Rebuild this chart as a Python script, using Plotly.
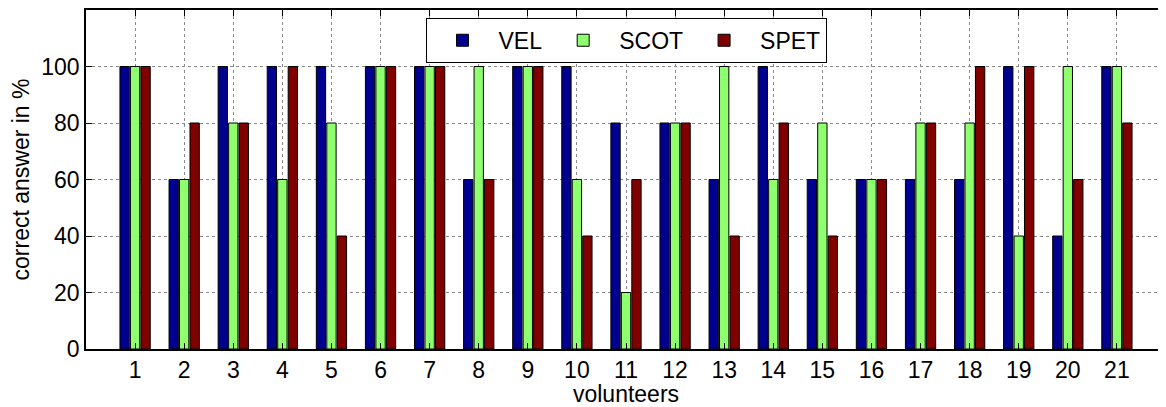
import plotly.graph_objects as go

volunteers = list(range(1, 22))
vel = [100, 60, 100, 100, 100, 100, 100, 60, 100, 100, 80, 80, 60, 100, 60, 60, 60, 60, 100, 40, 100]
scot = [100, 60, 80, 60, 80, 100, 100, 100, 100, 60, 20, 80, 100, 60, 80, 60, 80, 80, 40, 100, 100]
spet = [100, 80, 80, 100, 40, 100, 100, 60, 100, 40, 60, 80, 40, 80, 40, 60, 80, 100, 100, 60, 80]
series_names = ["VEL", "SCOT", "SPET"]
colors = ["#00008F", "#8FFF70", "#800000"]
y_ticks = [0, 20, 40, 60, 80, 100]

fig = go.Figure()
for name, vals, col in zip(series_names, [vel, scot, spet], colors):
    fig.add_trace(go.Bar(x=volunteers, y=vals, name=name,
                         marker=dict(color=col, line=dict(color="black", width=1))))

font = "Liberation Sans, Arial, sans-serif"
fig.update_layout(
    width=1160, height=399,
    margin=dict(l=78, r=0, t=1, b=58),
    plot_bgcolor="white", paper_bgcolor="white",
    barmode="group", bargap=0.36, bargroupgap=0.11,
    font=dict(family=font, size=23, color="black"),
    legend=dict(orientation="h", x=0.5, xanchor="center", y=0.977, yanchor="top",
                bordercolor="black", borderwidth=1, bgcolor="white",
                font=dict(size=23), itemwidth=62, tracegroupgap=0),
    showlegend=True,
)
fig.update_xaxes(range=[0, 22], tickvals=volunteers, ticktext=[str(v) for v in volunteers],
                 showline=True, linecolor="black", linewidth=1.5, mirror="ticks",
                 ticks="inside", ticklen=6, tickcolor="black",
                 showgrid=True, gridcolor="#8a8a8a", griddash="dot", gridwidth=1,
                 zeroline=False,
                 title=dict(text="volunteers", font=dict(size=23), standoff=2),
                 tickfont=dict(size=23))
fig.update_yaxes(range=[0, 120], tickvals=y_ticks,
                 showline=True, linecolor="black", linewidth=1.5, mirror="ticks",
                 ticks="inside", ticklen=6, tickcolor="black",
                 showgrid=True, gridcolor="#8a8a8a", griddash="dot", gridwidth=1,
                 zeroline=False,
                 title=dict(text="correct answer in %", font=dict(size=23), standoff=6),
                 tickfont=dict(size=23))

fig.write_html("out.html")
